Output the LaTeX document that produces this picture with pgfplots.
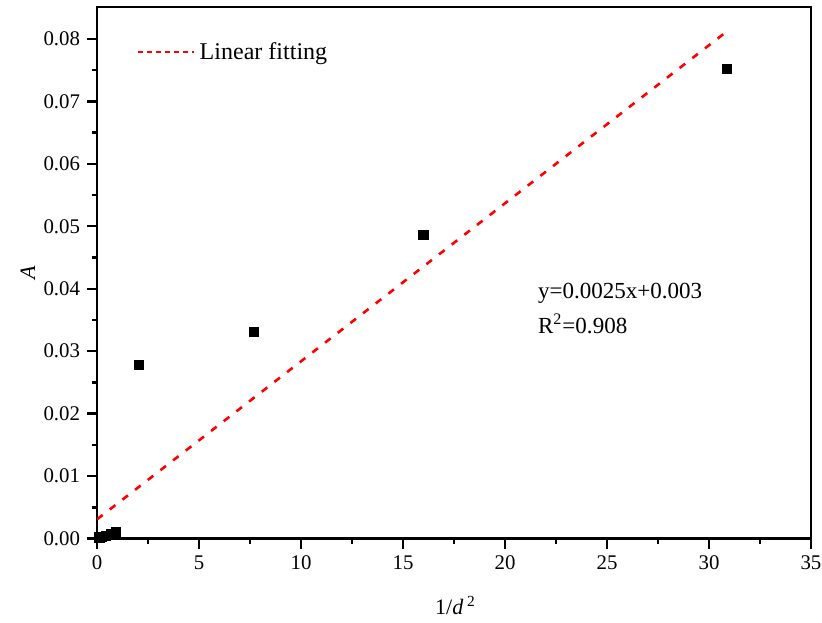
\documentclass[border=0pt]{standalone}
\usepackage{fontspec}
\setmainfont{Liberation Serif}
\usepackage{pgfplots}
\pgfplotsset{compat=1.18}
\usetikzlibrary{calc}

\begin{document}
\begin{tikzpicture}
    \begin{axis}[
            scale only axis,
            width=356.5pt, height=265.5pt,
            xmin=0, xmax=35,
            ymin=0, ymax=0.0851,
            xtick={0,5,10,15,20,25,30,35},
            ytick={0,0.01,0.02,0.03,0.04,0.05,0.06,0.07,0.08},
            minor x tick num=1, minor y tick num=1,
            tick pos=left, tick align=outside,
            major tick length=5pt, minor tick length=2.6pt,
            axis line style={line width=1.3pt},
            every tick/.style={black, line width=1.2pt},
            scaled y ticks=false,
            /pgf/number format/assume math mode=true,
            yticklabel style={/pgf/number format/.cd, fixed, fixed zerofill, precision=2},
            ticklabel style={font=\fontsize{10.4}{12}\selectfont},
            xlabel={1/\textit{d}\,\textsuperscript{2}},
            ylabel={\textit{A}},
            label style={font=\fontsize{11}{13}\selectfont},
            xlabel style={at={(axis description cs:0.502,-0.126)}, anchor=center},
            ylabel style={at={(axis description cs:-0.097,0.5)}, anchor=center},
            legend style={draw=none, fill=none, at={(axis description cs:0.047,0.915)},
                    anchor=west, font=\fontsize{12}{14}\selectfont},
            legend cell align=left,
            legend image code/.code={\draw[#1, dash pattern=on 2.5pt off 2pt] (0pt,0pt) -- (28pt,0pt);},
        ]
        \addplot[red, line width=1.3pt, dash pattern=on 3.5pt off 4.5pt]
            coordinates {(0,0.0031) (30.8,0.0810)};
        \addlegendentry{Linear fitting}
        \addplot[only marks, mark=square*, mark size=2.3pt, black, forget plot]
            coordinates {
                (0.11,0.0002) (0.25,0.0003) (0.44,0.0005) (0.69,0.0007) (0.93,0.0010)
                (2.04,0.0278) (7.7,0.0331) (16.0,0.0486) (30.86,0.0752)
            };
        \node[anchor=base west, inner sep=0pt, font=\fontsize{11.5}{13}\selectfont] at (axis cs:21.6,0.0385) {y=0.0025x+0.003};
        \node[anchor=base west, inner sep=0pt, font=\fontsize{11.5}{13}\selectfont] at (axis cs:21.6,0.0329) {R\textsuperscript{2}=0.908};
    \end{axis}
    \pgfresetboundingbox
    \path ($(current axis.south west)+(-48.5pt,-42pt)$) rectangle ($(current axis.north east)+(5.5pt,3.5pt)$);
\end{tikzpicture}
\end{document}
